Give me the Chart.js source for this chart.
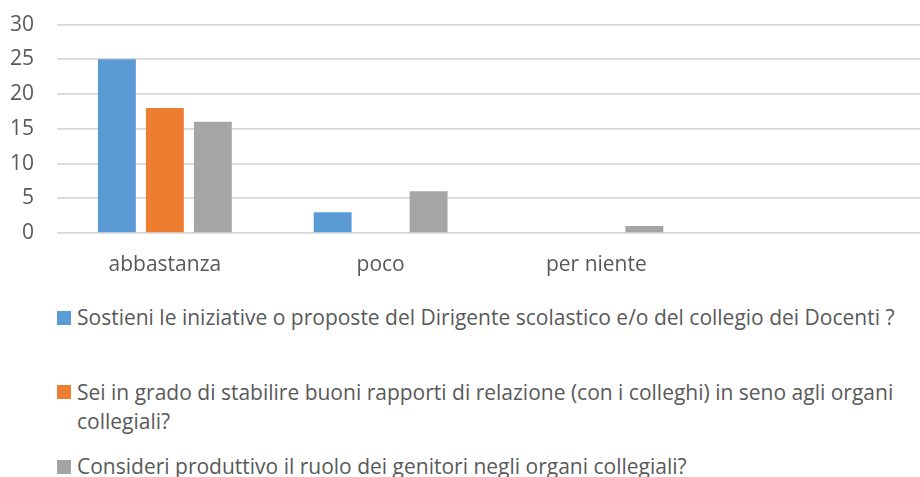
<!DOCTYPE html>
<html>
<head>
<meta charset="utf-8">
<script src="https://cdn.jsdelivr.net/npm/chart.js@4"></script>
<style>
  html, body { margin: 0; padding: 0; background: #fff; }
  #wrap { position: relative; width: 920px; height: 477px; overflow: hidden; }
  #chart { position: absolute; left: 0; top: -11px; }
  #legend {
    position: absolute; left: 57px; top: 303px; width: 860px;
    font-family: "Open Sans", sans-serif; font-size: 21px; color: #595959;
  }
  .item { position: relative; min-height: 58px; margin-bottom: 16.5px; padding-left: 20px; line-height: 29px; }
  .box { position: absolute; left: 0; top: 7.5px; width: 14px; height: 14px; }
</style>
</head>
<body>
<div id="wrap">
  <canvas id="chart" width="920" height="301"></canvas>
  <div id="legend"></div>
</div>
<script>
// categorie (l'ultima colonna e' vuota nel grafico originale)
const categories = ['abbastanza', 'poco', 'per niente', ''];

const seriesNames = [
    'Sostieni le iniziative o proposte del Dirigente scolastico e/o del collegio dei Docenti ?',
    'Sei in grado di stabilire buoni rapporti di relazione (con i colleghi) in seno agli organi collegiali?',
    'Consideri produttivo il ruolo dei genitori negli organi collegiali?'
];

const sostieni = [25, 3, 0, null];
const rapporti = [18, 0, 0, null];
const genitori = [16, 6, 1, null];

const yTicks = [0, 5, 10, 15, 20, 25, 30];

const colors = ['#5B9BD5', '#ED7D31', '#A5A5A5'];
const textColor = '#595959';
const font = { family: '"Open Sans", sans-serif', size: 21 };

const values = [sostieni, rapporti, genitori];

const ctx = document.getElementById('chart').getContext('2d');
new Chart(ctx, {
    type: 'bar',
    data: {
        labels: categories,
        datasets: values.map((v, i) => ({
            label: seriesNames[i],
            data: v,
            backgroundColor: colors[i],
            borderWidth: 0,
            categoryPercentage: 0.667,
            barPercentage: 0.79
        }))
    },
    options: {
        responsive: false,
        animation: false,
        devicePixelRatio: 1,
        layout: { padding: { top: 13, left: 0, right: 0, bottom: 0 } },
        plugins: {
            legend: { display: false },
            tooltip: { enabled: false }
        },
        scales: {
            y: {
                min: yTicks[0],
                max: yTicks[yTicks.length - 1],
                afterBuildTicks: axis => { axis.ticks = yTicks.map(v => ({ value: v })); },
                afterFit: axis => { axis.width = 57; },
                ticks: { font: font, color: textColor, padding: 23 },
                grid: { color: '#D9D9D9', lineWidth: 1.75, drawTicks: false },
                border: { display: false }
            },
            x: {
                afterFit: axis => { axis.height = 57; },
                ticks: { font: font, color: textColor, padding: 19, maxRotation: 0, autoSkip: false },
                grid: { display: false, drawTicks: false },
                border: { display: false }
            }
        }
    }
});

// legenda in HTML, cosi' il testo lungo va a capo come nell'originale
const legend = document.getElementById('legend');
seriesNames.forEach((name, i) => {
    const item = document.createElement('div');
    item.className = 'item';
    const box = document.createElement('span');
    box.className = 'box';
    box.style.background = colors[i];
    item.appendChild(box);
    item.appendChild(document.createTextNode(name));
    legend.appendChild(item);
});
</script>
</body>
</html>
